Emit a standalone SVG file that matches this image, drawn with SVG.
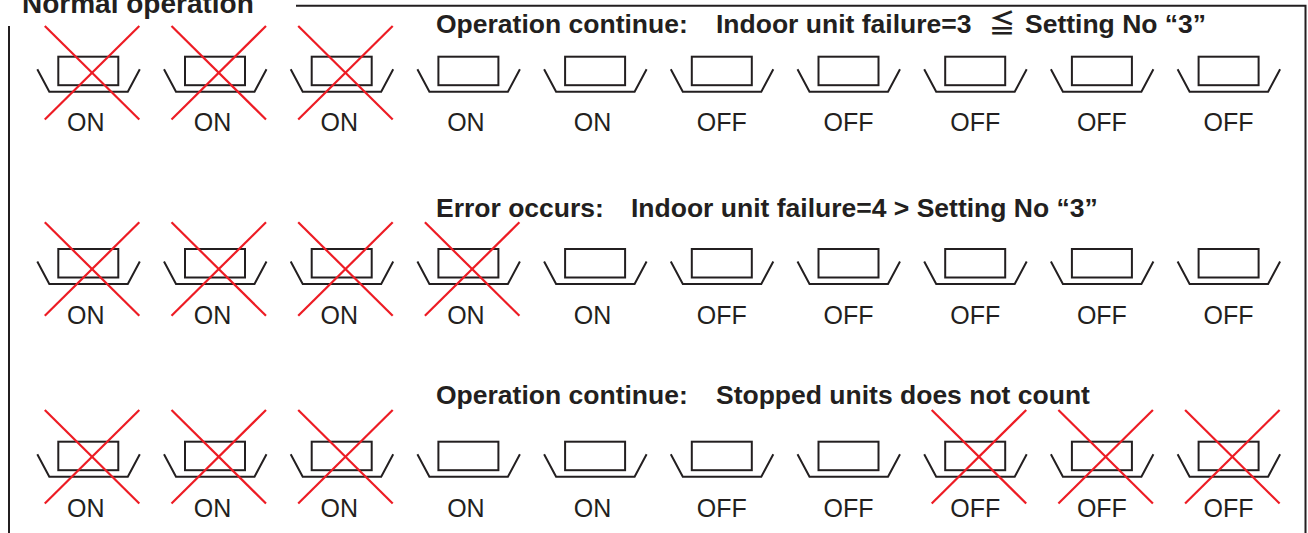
<svg xmlns="http://www.w3.org/2000/svg" xmlns:xlink="http://www.w3.org/1999/xlink" width="1308" height="533" viewBox="0 0 1308 533">
<style>
.ln{fill:none;stroke:#231f20;stroke-width:2}
.bx{fill:#fff;stroke:#231f20;stroke-width:2}
.rx{stroke:#ed1c24;stroke-width:2.2;fill:none}
.lb{font-family:"Liberation Sans",Arial,sans-serif;font-size:25px;fill:#231f20;text-anchor:middle}
.hd{font-family:"Liberation Sans",Arial,sans-serif;font-size:26.5px;font-weight:bold;fill:#231f20}
</style>
<defs>
<g id="unit">
<polyline class="ln" points="-51,12.5 -39,35 39.5,35 51.5,12.5"/>
<rect class="bx" x="-30" y="0" width="60" height="28.5"/>
</g>
<g id="cross">
<line class="rx" x1="-43.5" y1="0" x2="51" y2="93.5"/>
<line class="rx" x1="51" y1="0" x2="-43.5" y2="93.5"/>
</g>
</defs>
<g id="frame">
<path class="ln" d="M296,5.7 H1305.5 V533"/>
<path class="ln" d="M9,26 V533"/>
<text class="hd" x="22" y="12.5" style="font-size:28px">Normal operation</text>
</g>
<g id="heading1">
<text class="hd" y="33"><tspan x="436">Operation continue:</tspan><tspan x="716">Indoor unit failure=3</tspan><tspan x="1002" style="font-family:'Noto Sans CJK JP','DejaVu Sans',sans-serif;text-anchor:middle">≦</tspan><tspan x="1025">Setting No “3”</tspan></text>
</g>
<g id="heading2">
<text class="hd" y="217"><tspan x="436">Error occurs:</tspan><tspan x="631">Indoor unit failure=4 &gt; Setting No “3”</tspan></text>
</g>
<g id="heading3">
<text class="hd" y="404"><tspan x="436">Operation continue:</tspan><tspan x="716">Stopped units does not count</tspan></text>
</g>
<!-- Row 1 -->
<g id="r1u1" transform="translate(88.3,56.7)"><use href="#unit"/><use href="#cross" y="-30.7"/><text class="lb" x="-2.5" y="74.3">ON</text></g>
<g id="r1u2" transform="translate(215,56.7)"><use href="#unit"/><use href="#cross" y="-30.7"/><text class="lb" x="-2.5" y="74.3">ON</text></g>
<g id="r1u3" transform="translate(341.7,56.7)"><use href="#unit"/><use href="#cross" y="-30.7"/><text class="lb" x="-2.5" y="74.3">ON</text></g>
<g id="r1u4" transform="translate(468.4,56.7)"><use href="#unit"/><text class="lb" x="-2.5" y="74.3">ON</text></g>
<g id="r1u5" transform="translate(595.1,56.7)"><use href="#unit"/><text class="lb" x="-2.5" y="74.3">ON</text></g>
<g id="r1u6" transform="translate(721.8,56.7)"><use href="#unit"/><text class="lb" x="0" y="74.3">OFF</text></g>
<g id="r1u7" transform="translate(848.5,56.7)"><use href="#unit"/><text class="lb" x="0" y="74.3">OFF</text></g>
<g id="r1u8" transform="translate(975.2,56.7)"><use href="#unit"/><text class="lb" x="0" y="74.3">OFF</text></g>
<g id="r1u9" transform="translate(1101.9,56.7)"><use href="#unit"/><text class="lb" x="0" y="74.3">OFF</text></g>
<g id="r1u10" transform="translate(1228.6,56.7)"><use href="#unit"/><text class="lb" x="0" y="74.3">OFF</text></g>
<!-- Row 2 -->
<g id="r2u1" transform="translate(88.3,249)"><use href="#unit"/><use href="#cross" y="-26.7"/><text class="lb" x="-2.5" y="75.3">ON</text></g>
<g id="r2u2" transform="translate(215,249)"><use href="#unit"/><use href="#cross" y="-26.7"/><text class="lb" x="-2.5" y="75.3">ON</text></g>
<g id="r2u3" transform="translate(341.7,249)"><use href="#unit"/><use href="#cross" y="-26.7"/><text class="lb" x="-2.5" y="75.3">ON</text></g>
<g id="r2u4" transform="translate(468.4,249)"><use href="#unit"/><use href="#cross" y="-26.7"/><text class="lb" x="-2.5" y="75.3">ON</text></g>
<g id="r2u5" transform="translate(595.1,249)"><use href="#unit"/><text class="lb" x="-2.5" y="75.3">ON</text></g>
<g id="r2u6" transform="translate(721.8,249)"><use href="#unit"/><text class="lb" x="0" y="75.3">OFF</text></g>
<g id="r2u7" transform="translate(848.5,249)"><use href="#unit"/><text class="lb" x="0" y="75.3">OFF</text></g>
<g id="r2u8" transform="translate(975.2,249)"><use href="#unit"/><text class="lb" x="0" y="75.3">OFF</text></g>
<g id="r2u9" transform="translate(1101.9,249)"><use href="#unit"/><text class="lb" x="0" y="75.3">OFF</text></g>
<g id="r2u10" transform="translate(1228.6,249)"><use href="#unit"/><text class="lb" x="0" y="75.3">OFF</text></g>
<!-- Row 3 -->
<g id="r3u1" transform="translate(88.3,441.7)"><use href="#unit"/><use href="#cross" y="-31.7"/><text class="lb" x="-2.5" y="75.3">ON</text></g>
<g id="r3u2" transform="translate(215,441.7)"><use href="#unit"/><use href="#cross" y="-31.7"/><text class="lb" x="-2.5" y="75.3">ON</text></g>
<g id="r3u3" transform="translate(341.7,441.7)"><use href="#unit"/><use href="#cross" y="-31.7"/><text class="lb" x="-2.5" y="75.3">ON</text></g>
<g id="r3u4" transform="translate(468.4,441.7)"><use href="#unit"/><text class="lb" x="-2.5" y="75.3">ON</text></g>
<g id="r3u5" transform="translate(595.1,441.7)"><use href="#unit"/><text class="lb" x="-2.5" y="75.3">ON</text></g>
<g id="r3u6" transform="translate(721.8,441.7)"><use href="#unit"/><text class="lb" x="0" y="75.3">OFF</text></g>
<g id="r3u7" transform="translate(848.5,441.7)"><use href="#unit"/><text class="lb" x="0" y="75.3">OFF</text></g>
<g id="r3u8" transform="translate(975.2,441.7)"><use href="#unit"/><use href="#cross" y="-31.7"/><text class="lb" x="0" y="75.3">OFF</text></g>
<g id="r3u9" transform="translate(1101.9,441.7)"><use href="#unit"/><use href="#cross" y="-31.7"/><text class="lb" x="0" y="75.3">OFF</text></g>
<g id="r3u10" transform="translate(1228.6,441.7)"><use href="#unit"/><use href="#cross" y="-31.7"/><text class="lb" x="0" y="75.3">OFF</text></g>
</svg>
